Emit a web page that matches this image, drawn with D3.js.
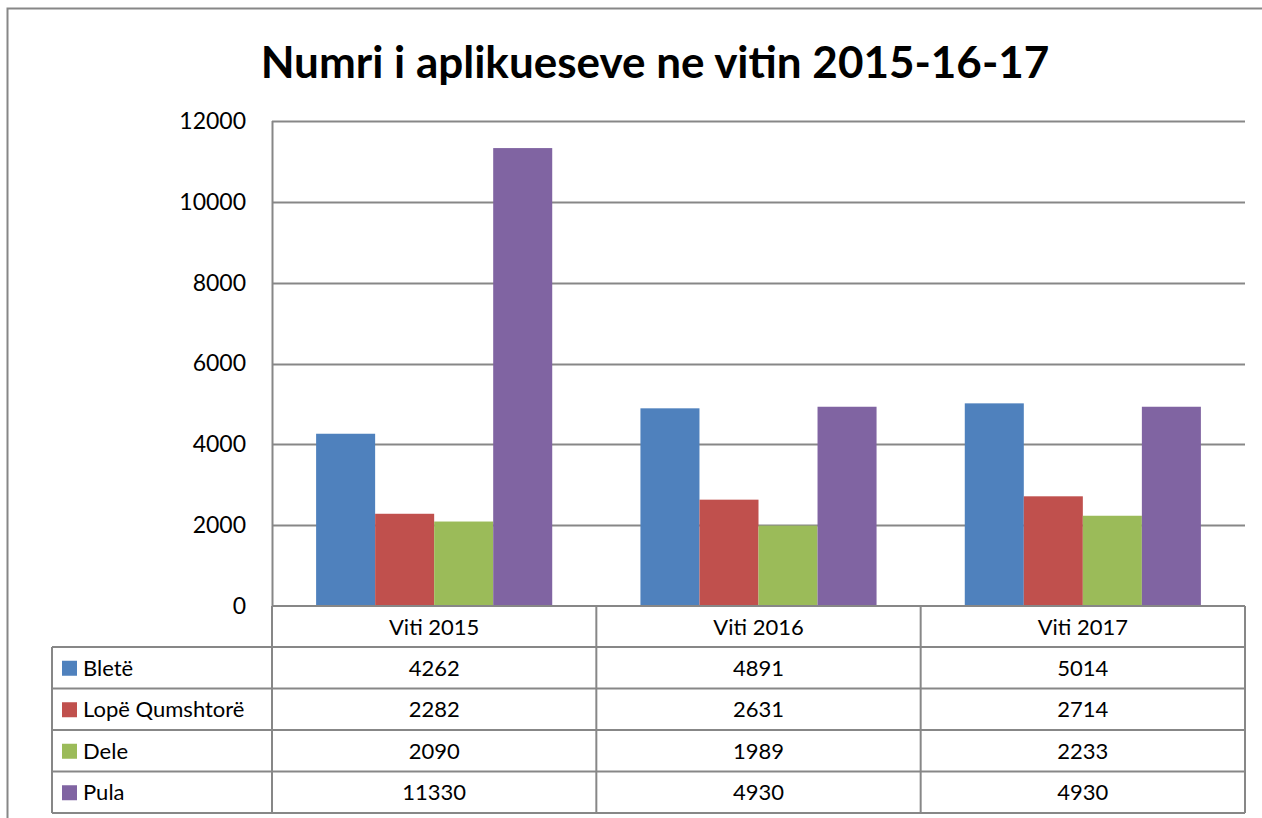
<!DOCTYPE html>
<html>
<head>
<meta charset="utf-8">
<script src="https://cdn.jsdelivr.net/npm/d3@7"></script>
<style>
  body { margin: 0; background: #fff; }
  svg { display: block; font-family: Lato, "Open Sans", sans-serif; }
</style>
</head>
<body>
<div class="chart"></div>
<script>
const categories = ["Viti 2015", "Viti 2016", "Viti 2017"];
const seriesNames = ["Bletë", "Lopë Qumshtorë", "Dele", "Pula"];
const bleteValues = [4262, 4891, 5014];
const lopeValues = [2282, 2631, 2714];
const deleValues = [2090, 1989, 2233];
const pulaValues = [11330, 4930, 4930];
const yTicks = [0, 2000, 4000, 6000, 8000, 10000, 12000];
const colors = ["#4F81BD", "#C0504D", "#9BBB59", "#8064A2"];

const series = [bleteValues, lopeValues, deleValues, pulaValues].map(function(v, i){
    return {name: seriesNames[i], values: v, color: colors[i]};
});

const W = 1262, H = 818;
const margin = {top: 121, right: 17, bottom: 212, left: 272};
const width = W - margin.left - margin.right;
const height = H - margin.top - margin.bottom;
const gray = "#878787";

let svg = d3.select(".chart")
    .append("svg")
    .attr("width", W)
    .attr("height", H);

// outer chart border
svg.append("rect")
    .attr("x", 7.5).attr("y", 8.5)
    .attr("width", W + 20).attr("height", H + 20)
    .attr("fill", "none")
    .attr("stroke", gray)
    .attr("stroke-width", 2);

svg.append("text")
    .attr("x", 655).attr("y", 78)
    .attr("text-anchor", "middle")
    .attr("font-size", 44)
    .attr("font-weight", "bold")
    .attr("fill", "#000")
    .text("Numri i aplikueseve ne vitin 2015-16-17");

let g = svg.append("g")
    .attr("transform", "translate(" + margin.left + "," + margin.top + ")");

let yScale = d3.scaleLinear().domain([0, 12000]).range([height, 0]);
let x0 = d3.scaleBand().domain(categories).range([0, width]).padding(0);
let x1 = d3.scaleBand().domain(seriesNames)
    .range([x0.bandwidth() * 0.136, x0.bandwidth() * 0.864]).padding(0);

// gridlines
g.append("g")
    .selectAll("line")
    .data(yTicks.filter(function(d){ return d > 0; }))
    .enter()
    .append("line")
    .attr("x1", 0).attr("x2", width)
    .attr("y1", function(d){ return Math.round(yScale(d)) + 0.5; })
    .attr("y2", function(d){ return Math.round(yScale(d)) + 0.5; })
    .attr("stroke", gray)
    .attr("stroke-width", 2);

// y axis labels
let yAxis = g.append("g")
    .call(d3.axisLeft(yScale).tickValues(yTicks).tickFormat(d3.format("d")).tickSize(0).tickPadding(26));
yAxis.select(".domain").remove();
yAxis.selectAll("text")
    .attr("font-size", 23)
    .attr("font-family", "Lato, 'Open Sans', sans-serif")
    .attr("fill", "#000");

// bars
g.selectAll(".grp")
    .data(categories)
    .enter()
    .append("g")
    .attr("class", "grp")
    .attr("transform", function(d){ return "translate(" + x0(d) + ",0)"; })
    .selectAll("rect")
    .data(function(d, i){
        return series.map(function(s){ return {name: s.name, value: s.values[i], color: s.color}; });
    })
    .enter()
    .append("rect")
    .attr("x", function(d){ return x1(d.name); })
    .attr("y", function(d){ return yScale(d.value); })
    .attr("width", x1.bandwidth())
    .attr("height", function(d){ return height - yScale(d.value); })
    .attr("fill", function(d){ return d.color; });

// y axis line
g.append("line")
    .attr("x1", 0.5).attr("x2", 0.5)
    .attr("y1", 0).attr("y2", height)
    .attr("stroke", gray).attr("stroke-width", 2);

// data table
const rowH = 41.5;
const headerH = 41;
const legendLeft = 52 - margin.left;
const fs = 22;
let table = g.append("g").attr("transform", "translate(0," + height + ")");

// horizontal lines
table.append("line")
    .attr("x1", 0).attr("x2", width)
    .attr("y1", 0).attr("y2", 0)
    .attr("stroke", gray).attr("stroke-width", 2);
d3.range(series.length + 1).forEach(function(i){
    let y = headerH + i * rowH;
    table.append("line")
        .attr("x1", legendLeft).attr("x2", width)
        .attr("y1", y).attr("y2", y)
        .attr("stroke", gray).attr("stroke-width", 2);
});

// vertical lines
let tableBottom = headerH + series.length * rowH;
table.append("line")
    .attr("x1", legendLeft).attr("x2", legendLeft)
    .attr("y1", headerH).attr("y2", tableBottom)
    .attr("stroke", gray).attr("stroke-width", 2);
categories.concat(["end"]).forEach(function(c, i){
    let x = i * x0.bandwidth();
    table.append("line")
        .attr("x1", x).attr("x2", x)
        .attr("y1", 0).attr("y2", tableBottom)
        .attr("stroke", gray).attr("stroke-width", 2);
});

// header text
table.selectAll(".hdr")
    .data(categories)
    .enter()
    .append("text")
    .attr("class", "hdr")
    .attr("x", function(d){ return x0(d) + x0.bandwidth() / 2; })
    .attr("y", headerH / 2 + 8)
    .attr("text-anchor", "middle")
    .attr("font-size", fs)
    .text(function(d){ return d; });

// rows
series.forEach(function(s, r){
    let cy = headerH + r * rowH + rowH / 2;
    table.append("rect")
        .attr("x", legendLeft + 10).attr("y", cy - 7)
        .attr("width", 15).attr("height", 15)
        .attr("fill", s.color);
    table.append("text")
        .attr("x", legendLeft + 31).attr("y", cy + 8)
        .attr("font-size", fs)
        .text(s.name);
    table.selectAll(null)
        .data(s.values)
        .enter()
        .append("text")
        .attr("x", function(d, i){ return x0(categories[i]) + x0.bandwidth() / 2; })
        .attr("y", cy + 8)
        .attr("text-anchor", "middle")
        .attr("font-size", fs)
        .text(function(d){ return d; });
});
</script>
</body>
</html>
